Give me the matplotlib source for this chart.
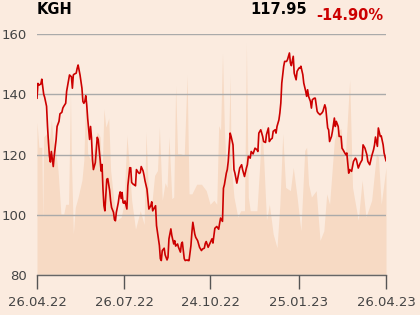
import numpy as np
import pandas as pd
import matplotlib
matplotlib.use("Agg")
import matplotlib.pyplot as plt
import matplotlib.dates as mdates

start = pd.Timestamp("2022-04-26")

# closing price, day offset from start
price_days = [0, 1, 2, 4, 5, 6, 7, 8, 10, 11, 12, 13, 14, 15, 16, 17, 18, 20, 21, 23,
              24, 26, 27, 28, 30, 31, 33, 34, 36, 37, 38, 39, 41, 42, 43, 44, 45, 47, 48, 49,
              50, 51, 52, 53, 55, 56, 57, 58, 59, 61, 62, 63, 64, 65, 66, 67, 68, 69, 70, 71,
              73, 74, 76, 77, 78, 80, 81, 82, 83, 85, 86, 87, 88, 89, 90, 91, 92, 94, 95, 97,
              98, 99, 101, 102, 103, 104, 106, 107, 108, 109, 111, 112, 113, 115, 116, 117, 119, 120, 121, 123,
              124, 125, 126, 128, 129, 130, 131, 133, 134, 136, 137, 138, 140, 141, 143, 144, 145, 147, 148, 150,
              151, 152, 154, 155, 157, 158, 159, 161, 162, 163, 165, 166, 168, 169, 170, 172, 173, 175, 176, 177,
              179, 183, 184, 186, 188, 190, 191, 192, 194, 195, 196, 198, 199, 200, 202, 203, 205, 206, 207, 209,
              211, 212, 214, 215, 217, 219, 220, 221, 223, 224, 226, 228, 230, 231, 232, 234, 236, 237, 239, 240,
              242, 243, 244, 246, 247, 249, 250, 251, 253, 254, 255, 256, 258, 259, 261, 262, 264, 265, 266, 268,
              269, 271, 272, 274, 275, 276, 278, 279, 281, 282, 283, 284, 286, 287, 288, 290, 291, 293, 294, 296,
              298, 299, 301, 302, 304, 305, 306, 308, 309, 311, 312, 313, 315, 316, 318, 319, 320, 322, 323, 324,
              326, 327, 329, 331, 333, 334, 336, 338, 340, 341, 343, 345, 346, 348, 350, 352, 353, 354, 356, 357,
              359, 360, 362, 363, 365]
price = [138.7, 143.6, 143.0, 143.4, 145.0, 142.5, 140.0, 139.0, 136.0, 129.3, 124.0, 119.5, 117.5, 121.0, 118.4, 116.0, 119.5, 125.0, 129.3, 131.0,
         133.5, 134.0, 135.4, 136.0, 137.0, 141.0, 144.5, 146.4, 145.8, 142.0, 146.4, 146.7, 147.0, 148.6, 149.7, 148.0, 146.4, 142.0, 137.6, 137.0,
         137.6, 139.5, 136.5, 132.0, 125.0, 129.3, 125.5, 118.4, 115.0, 117.3, 121.7, 125.7, 125.0, 121.7, 118.4, 114.5, 116.7, 108.5, 103.0, 101.3,
         111.8, 112.0, 108.0, 104.6, 102.4, 100.8, 98.4, 98.0, 100.8, 104.0, 106.3, 107.6, 105.4, 107.4, 104.0, 103.8, 104.6, 101.9, 109.6, 115.6,
         115.6, 110.7, 110.0, 110.0, 109.6, 115.0, 114.0, 113.7, 114.0, 116.0, 114.5, 113.0, 111.2, 108.5, 105.2, 101.9, 103.0, 104.3, 101.3, 102.4,
         103.0, 96.4, 94.2, 89.8, 85.4, 84.8, 88.1, 88.9, 86.7, 85.0, 85.9, 92.0, 95.3, 93.1, 90.3, 91.4, 89.6, 90.3, 89.2, 87.6,
         90.3, 90.9, 85.4, 84.8, 85.0, 84.8, 84.8, 89.8, 94.2, 97.5, 93.6, 92.5, 91.4, 90.3, 89.2, 88.1, 88.6, 88.9, 90.5, 91.1,
         89.2, 92.0, 90.6, 95.5, 96.1, 95.2, 97.2, 98.9, 97.8, 108.8, 110.0, 113.8, 115.0, 117.7, 127.1, 126.0, 123.2, 115.0, 113.8, 110.5,
         113.8, 115.5, 116.6, 115.0, 112.7, 115.5, 116.6, 119.4, 118.8, 121.0, 120.2, 122.1, 121.6, 121.0, 127.1, 128.2, 126.0, 124.3, 124.0, 126.6,
         128.8, 124.3, 124.9, 125.4, 127.7, 128.2, 127.1, 129.3, 131.5, 133.8, 137.1, 143.7, 149.3, 150.9, 150.9, 151.5, 153.7, 150.4, 149.5, 152.6,
         147.0, 144.8, 147.6, 148.7, 148.7, 149.3, 146.5, 143.7, 141.0, 139.3, 141.5, 139.3, 137.6, 135.4, 138.2, 138.7, 138.7, 134.3, 133.8, 133.2,
         133.8, 134.3, 136.5, 135.4, 128.8, 128.2, 124.3, 126.0, 127.7, 132.1, 129.3, 131.0, 129.3, 126.0, 126.0, 122.1, 121.6, 120.5, 119.9, 120.5,
         113.8, 115.0, 114.4, 117.7, 118.8, 118.3, 115.5, 117.1, 118.2, 123.2, 122.1, 119.9, 117.7, 116.6, 119.4, 121.6, 123.2, 125.8, 122.7, 128.8,
         126.0, 126.2, 123.2, 120.5, 117.95]

# traded volume (mln shares), day offset from start
vol_days = [0, 2, 5, 6, 7, 10, 13, 15, 17, 19, 22, 25, 28, 30, 33, 35, 36, 38, 40, 43,
            47, 49, 51, 53, 56, 60, 63, 66, 68, 70, 72, 75, 77, 80, 83, 88, 91, 94, 96, 99,
            103, 108, 112, 114, 117, 120, 123, 126, 128, 131, 134, 136, 138, 141, 143, 145, 147, 150, 154, 157,
            159, 162, 167, 172, 177, 181, 185, 188, 190, 192, 194, 196, 198, 200, 202, 203, 206, 210, 213, 217,
            218, 219, 221, 223, 226, 230, 233, 235, 237, 240, 243, 247, 251, 254, 257, 260, 265, 268, 272, 276,
            280, 282, 284, 287, 292, 296, 300, 303, 306, 311, 314, 318, 322, 327, 330, 336, 340, 344, 350, 355,
            357, 360, 365]
volume = [1.90, 1.59, 1.59, 0.68, 1.72, 1.76, 1.68, 1.93, 1.68, 1.59, 1.30, 0.76, 0.76, 0.88, 0.88, 2.26, 1.43, 0.51, 0.84, 0.97,
          1.18, 1.43, 2.28, 1.51, 1.43, 1.59, 1.78, 1.72, 1.22, 2.07, 1.84, 1.95, 1.30, 0.97, 0.68, 0.72, 0.88, 1.74, 1.43, 0.93,
          0.57, 0.80, 0.63, 1.78, 0.88, 0.88, 1.24, 1.30, 1.84, 0.93, 1.15, 1.09, 1.72, 0.95, 0.97, 2.36, 1.51, 1.51, 1.49, 2.49,
          1.01, 1.01, 1.13, 1.13, 1.05, 0.88, 0.93, 0.88, 1.86, 1.80, 2.76, 1.80, 1.30, 1.47, 2.49, 1.38, 0.97, 0.72, 0.80, 0.80,
          1.80, 2.89, 0.97, 0.80, 0.80, 0.80, 1.38, 1.88, 1.47, 0.68, 0.88, 0.51, 0.34, 0.88, 1.76, 1.09, 1.05, 1.34, 0.97, 0.55,
          1.55, 1.59, 1.13, 0.97, 1.05, 0.43, 0.55, 1.01, 0.88, 1.68, 1.80, 1.82, 1.38, 2.43, 1.09, 0.68, 1.18, 0.72, 0.93, 1.51,
          1.47, 0.88, 1.34]

ticker = "KGH"
last_price = "117.95"
change = "-14.90%"
tick_dates = ["2022-04-26", "2022-07-26", "2022-10-24", "2023-01-25", "2023-04-26"]
price_ticks = [80, 100, 120, 140, 160]

bg = "#fbebdf"
vol_color = "#f7dac4"
line_red = "#cc0000"
grid_gray = "#aaaaaa"
text_gray = "#444444"

p_dates = start + pd.to_timedelta(price_days, unit="D")
v_dates = start + pd.to_timedelta(vol_days, unit="D")

fig = plt.figure(figsize=(4.2, 3.15), dpi=100, facecolor=bg)
ax = fig.add_axes([37 / 420, 1 - 275 / 315, 349 / 420, 241 / 315])
axv = ax.twinx()
axv.set_zorder(ax.get_zorder() - 1)
ax.patch.set_visible(False)
axv.patch.set_facecolor(bg)

# volume in background
axv.fill_between(v_dates, 0, volume, color=vol_color, lw=0)
axv.set_ylim(0, 3.0)
axv.set_yticks([])
for s in axv.spines.values():
    s.set_visible(False)

# price line
ax.plot(p_dates, price, color=line_red, lw=1.2, zorder=3)
ax.set_ylim(80, 160)
ax.set_xlim(start, pd.Timestamp("2023-04-26"))
ax.set_yticks(price_ticks)
ax.grid(axis="y", color=grid_gray, lw=1)
ax.set_axisbelow(False)

ax.set_xticks(pd.to_datetime(tick_dates))
ax.xaxis.set_major_formatter(mdates.DateFormatter("%d.%m.%y"))
ax.tick_params(axis="x", length=10, width=1, color="#555555", pad=5,
               labelsize=9.5, labelcolor=text_gray)
ax.tick_params(axis="y", length=0, pad=7, labelsize=9.5, labelcolor=text_gray)
for side in ["top", "right", "left"]:
    ax.spines[side].set_visible(False)
ax.spines["bottom"].set_color("#666666")
ax.spines["bottom"].set_linewidth(1)

fig.text(37 / 420, 1 - 10 / 315, ticker, fontsize=10.5, fontweight="bold",
         color="black", ha="left", va="center")
fig.text(307 / 420, 1 - 10 / 315, last_price, fontsize=10.5, fontweight="bold",
         color="black", ha="right", va="center")
fig.text(383 / 420, 1 - 16 / 315, change, fontsize=10.5, fontweight="bold",
         color=line_red, ha="right", va="center")

fig.savefig("out.png", dpi=100, facecolor=bg)
